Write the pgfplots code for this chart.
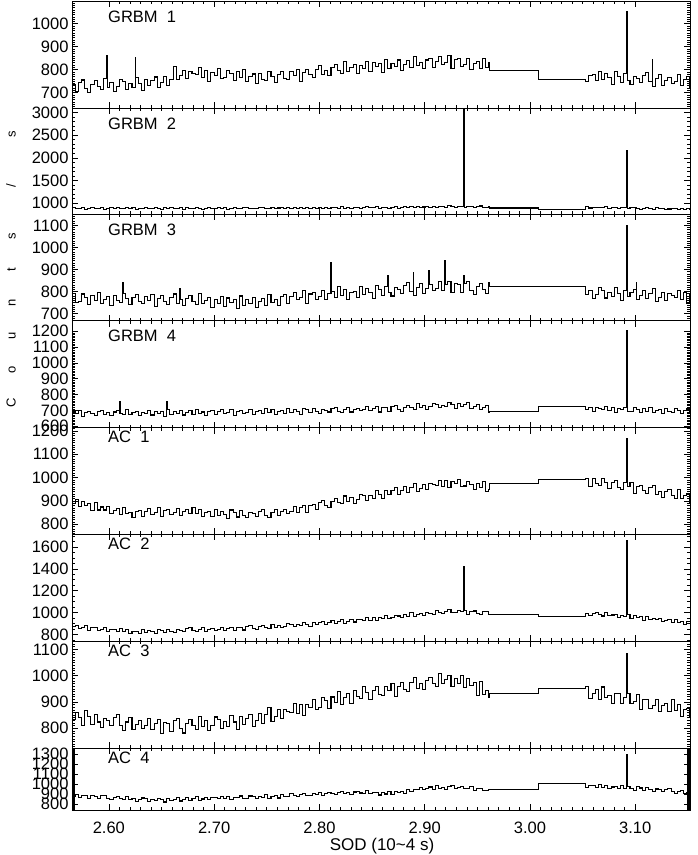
\documentclass[border=0pt]{standalone}
\usepackage{pgfplots}
\pgfplotsset{compat=1.18}
\usepackage{pgfplotstable}
\usepackage{fontspec}
\setmainfont{Liberation Sans}
\pgfplotstableread{
x g1 g2 g3 g4 a1 a2 a3 a4
2.565 736 902 792 694 889 874 835 878
2.568 703 882 750 682 908 884 860 897
2.571 746 896 756 700 875 857 840 866
2.574 755 906 789 664 898 860 811 882
2.577 717 874 773 688 881 878 866 889
2.580 699 888 743 696 888 837 845 854
2.583 735 904 782 678 857 861 816 881
2.586 751 878 758 670 892 862 853 878
2.589 727 894 796 692 861 838 824 854
2.592 713 910 745 702 874 843 804 881
2.595 761 872 766 674 861 859 838 886
2.598 862 884 778 684 877 827 828 858
2.5986 723 884 778 684 877 827 828 858
2.601 744 900 739 668 845 843 809 844
2.604 706 876 784 690 859 847 841 866
2.607 727 898 760 698 867 827 852 873
2.610 758 892 750 759 843 855 811 855
2.6106 758 892 750 680 843 855 811 855
2.613 750 886 840 673 873 827 792 842
2.6136 750 886 792 673 873 827 792 842
2.616 714 908 768 705 845 843 824 872
2.619 739 880 741 677 851 811 840 843
2.622 721 902 774 687 830 827 794 855
2.625 851 870 786 695 855 829 814 827
2.6256 764 870 786 695 855 829 814 827
2.628 738 896 753 667 860 812 829 841
2.631 709 888 747 689 835 842 801 860
2.634 759 906 779 679 853 819 810 853
2.637 730 878 761 701 866 838 839 829
2.640 752 882 788 671 843 827 794 844
2.643 768 904 734 696 850 809 820 832
2.646 721 894 770 682 871 848 832 859
2.649 744 874 782 692 833 837 781 841
2.652 769 900 754 664 860 819 822 820
2.655 731 884 742 755 865 846 819 852
2.6556 731 884 742 704 865 846 819 852
2.658 758 910 775 676 843 829 786 834
2.661 813 876 789 692 851 818 829 849
2.664 756 890 747 682 869 843 839 861
2.667 774 898 815 700 838 838 800 830
2.6676 774 898 762 700 838 838 800 830
2.670 797 872 737 671 856 827 782 846
2.673 761 902 770 687 862 850 819 863
2.676 794 886 782 697 844 859 834 839
2.679 784 880 757 676 873 834 811 856
2.682 777 908 742 708 847 823 797 874
2.685 808 892 790 682 865 846 845 837
2.688 766 874 747 690 834 859 807 850
2.691 798 896 761 670 851 830 829 866
2.694 750 904 773 696 854 844 790 843
2.697 788 882 730 700 835 855 812 866
2.700 776 878 762 675 864 838 843 861
2.703 803 900 746 693 839 845 835 855
2.706 760 888 778 705 856 866 800 878
2.709 766 906 733 680 843 837 825 851
2.712 798 870 771 687 824 856 807 874
2.715 783 894 749 707 861 864 850 842
2.718 752 902 764 669 849 832 824 869
2.721 790 884 723 695 831 861 795 861
2.724 764 876 780 700 857 861 844 880
2.727 802 898 738 678 839 840 815 853
2.730 750 908 763 686 827 870 838 858
2.733 770 880 748 705 850 877 854 880
2.736 781 892 775 675 844 852 807 871
2.739 740 878 730 693 832 842 830 852
2.742 784 898 755 699 854 868 855 879
2.745 759 909 770 682 862 879 817 864
2.748 751 891 739 712 838 865 854 892
2.751 794 883 788 687 828 857 880 859
2.754 771 915 751 705 851 891 825 875
2.757 745 887 765 676 865 867 845 884
2.760 780 897 736 694 837 883 871 860
2.763 793 905 777 698 853 859 837 891
2.766 761 877 785 681 865 875 872 877
2.769 756 899 748 711 848 897 865 872
2.772 790 891 776 688 856 893 859 902
2.775 773 913 796 706 878 871 895 887
2.778 802 883 762 694 851 889 856 871
2.781 750 909 772 677 872 879 892 895
2.784 786 895 804 715 882 909 847 905
2.787 802 905 748 704 851 893 889 885
2.790 777 878 789 686 882 875 880 883
2.793 767 917 796 712 883 909 910 907
2.796 802 889 765 694 864 891 871 897
2.799 819 905 778 683 894 907 880 917
2.802 779 895 807 707 903 919 916 883
2.805 796 914 763 702 880 889 904 909
2.808 773 884 791 690 870 905 877 918
2.811 808 900 933 713 896 924 919 901
2.8116 808 900 800 713 896 924 919 901
2.814 821 910 775 721 909 901 898 894
2.817 796 890 821 696 895 919 940 917
2.820 785 922 782 685 887 937 892 928
2.823 834 896 810 707 921 902 916 901
2.826 794 902 766 719 897 916 931 912
2.829 810 882 794 690 914 935 895 897
2.832 824 908 801 705 890 913 943 920
2.835 783 916 775 715 906 938 922 929
2.838 817 890 821 698 929 935 915 910
2.841 803 908 785 706 925 931 958 901
2.844 836 920 813 725 903 956 936 932
2.847 792 898 796 698 922 930 911 903
2.850 832 904 769 714 912 955 945 912
2.853 812 924 827 723 943 925 959 919
2.856 828 886 810 690 928 954 928 890
2.859 786 912 784 719 910 948 924 911
2.862 844 917 823 717 945 969 958 900
2.865 803 896 873 696 927 943 942 921
2.8656 803 896 797 696 927 943 942 921
2.868 828 905 780 725 944 950 972 894
2.871 814 924 817 732 956 975 920 923
2.874 842 895 809 707 927 968 958 912
2.877 798 914 792 696 943 951 973 925
2.880 824 921 826 721 962 980 949 905
2.883 840 904 839 732 938 967 939 949
2.886 808 935 801 717 957 996 975 927
2.889 857 910 886 708 975 965 992 949
2.8896 857 910 784 708 975 965 992 949
2.892 819 929 818 741 939 982 952 945
2.895 832 900 837 716 954 993 970 969
2.898 803 919 793 731 972 970 947 941
2.901 842 923 815 707 950 1002 982 958
2.904 849 906 895 722 973 989 995 970
2.9046 849 906 832 722 973 989 995 970
2.907 811 937 806 743 969 986 970 949
2.910 837 914 816 739 965 1017 960 983
2.913 857 932 847 716 989 1003 1009 958
2.916 822 921 803 733 963 988 969 968
2.919 832 904 941 722 986 1013 985 949
2.9196 832 904 832 722 986 1013 985 949
2.922 862 942 845 752 956 1024 999 977
2.925 806 931 795 735 984 1004 958 982
2.928 843 913 836 714 974 999 988 954
2.931 848 938 832 746 991 1019 971 969
2.934 813 920 797 725 961 1006 1001 979
2.937 824 3300 873 739 964 1424 954 952
2.9376 824 907 838 739 964 1022 954 952
2.940 849 931 846 748 984 985 990 956
2.943 802 924 806 713 972 1008 964 973
2.946 828 912 787 723 951 1014 973 933
2.949 835 933 821 736 975 995 926 956
2.952 807 941 835 706 958 985 977 958
2.955 850 914 810 719 982 1006 930 933
2.958 809 900 793 731 942 1012 944 935
2.961 833 919 840 688 950 980 919 946
2.962 795 897 823 693 974 980 933 947
3.008 759 860 823 725 991 965 952 1003
3.053 748 928 786 704 995 990 959 964
3.056 774 897 806 720 960 972 912 981
3.059 779 909 767 695 996 992 934 985
3.062 751 918 787 717 975 998 947 966
3.065 794 899 817 710 966 978 911 995
3.068 757 904 807 704 998 968 957 967
3.071 783 922 771 725 977 998 916 984
3.074 764 891 794 697 953 969 926 953
3.077 736 908 776 718 979 977 894 970
3.080 792 915 817 686 987 983 931 972
3.083 772 879 790 712 957 953 934 953
3.086 744 906 759 703 951 973 893 982
3.089 782 903 806 721 977 961 918 956
3.092 1054 2150 1100 1206 1166 1662 1084 1297
3.0926 754 879 776 692 960 981 934 973
3.095 735 906 796 696 980 948 896 959
3.098 771 911 811 717 932 971 903 938
3.101 761 884 841 707 960 954 930 974
3.1016 761 884 762 707 960 954 930 974
3.104 743 870 783 686 968 961 871 960
3.107 775 893 806 712 943 930 908 939
3.110 786 902 767 695 931 965 911 963
3.113 747 885 790 721 956 934 876 942
3.116 846 873 813 686 966 947 886 928
3.1166 728 873 813 686 966 947 886 928
3.119 761 904 756 700 929 934 910 950
3.122 778 877 773 708 939 949 863 941
3.125 733 890 797 681 916 916 888 927
3.128 753 862 760 711 942 929 894 947
3.131 767 875 793 694 949 936 865 952
3.134 740 894 783 688 924 911 908 924
3.137 748 886 774 715 912 940 867 909
3.140 778 861 806 699 949 911 892 929
3.143 732 876 764 680 912 916 845 938
3.146 758 863 796 702 923 893 870 906
3.149 770 889 747 710 930 916 874 918
3.152 718 870 786 687 893 917 845 925
3.155 718 870 786 687 893 917 845 925
}\data

\pgfplotsset{
  panel/.style={
    scale only axis, width=618pt, anchor=north west,
    xmin=2.565, xmax=3.152,
    xtick={2.6,2.7,2.8,2.9,3.0,3.1}, minor x tick num=9,
    xticklabels={},
    tick pos=both, tick align=inside,
    major tick length=6pt, minor tick length=3pt,
    tick style={line width=0.6pt, black},
    axis line style={line width=0.8pt, black},
    ticklabel style={font=\fontsize{16.5}{18}\selectfont},
    /pgf/number format/assume math mode=true,
    /pgf/number format/1000 sep={},
    scaled y ticks=false,
  },
  dat/.style={black, no markers, const plot, line width=1.05pt},
}
\tikzset{
  lab/.style={anchor=base west, inner sep=0pt, xshift=36pt, font=\fontsize{16.5}{18}\selectfont},
}

\begin{document}
\begin{tikzpicture}
\begin{axis}[panel, at={(0pt,0pt)}, height=107pt, ymin=633, ymax=1099,
  ytick={600,700,...,1100}, minor y tick num=9]
\addplot[dat] table[x=x,y=g1]{\data};
\node[lab, yshift=-21pt] at (rel axis cs:0,1) {GRBM\ \ 1};
\end{axis}
\begin{axis}[panel, at={(0pt,-107pt)}, height=106.3pt, ymin=758, ymax=3095,
  ytick={1000,1500,...,3000}, minor y tick num=4]
\addplot[dat] table[x=x,y=g2]{\data};
\node[lab, yshift=-21pt] at (rel axis cs:0,1) {GRBM\ \ 2};
\end{axis}
\begin{axis}[panel, at={(0pt,-213.3pt)}, height=106.2pt, ymin=669, ymax=1150,
  ytick={600,700,...,1200}, minor y tick num=9]
\addplot[dat] table[x=x,y=g3]{\data};
\node[lab, yshift=-21pt] at (rel axis cs:0,1) {GRBM\ \ 3};
\end{axis}
\begin{axis}[panel, at={(0pt,-319.5pt)}, height=107pt, ymin=592, ymax=1268,
  ytick={600,700,...,1200}, minor y tick num=9]
\addplot[dat] table[x=x,y=g4]{\data};
\node[lab, yshift=-21pt] at (rel axis cs:0,1) {GRBM\ \ 4};
\end{axis}
\begin{axis}[panel, at={(0pt,-426.5pt)}, height=106.5pt, ymin=758, ymax=1215,
  ytick={700,800,...,1300}, minor y tick num=9]
\addplot[dat] table[x=x,y=a1]{\data};
\node[lab, yshift=-15pt] at (rel axis cs:0,1) {AC\ \ 1};
\end{axis}
\begin{axis}[panel, at={(0pt,-533pt)}, height=107pt, ymin=739, ymax=1719,
  ytick={600,800,...,1800}, minor y tick num=3]
\addplot[dat] table[x=x,y=a2]{\data};
\node[lab, yshift=-15pt] at (rel axis cs:0,1) {AC\ \ 2};
\end{axis}
\begin{axis}[panel, at={(0pt,-640pt)}, height=107pt, ymin=725, ymax=1132,
  ytick={700,800,...,1200}, minor y tick num=9]
\addplot[dat] table[x=x,y=a3]{\data};
\node[lab, yshift=-15pt] at (rel axis cs:0,1) {AC\ \ 3};
\end{axis}
\begin{axis}[panel, at={(0pt,-747pt)}, height=62pt, ymin=740, ymax=1360,
  ytick={700,800,...,1400}, minor y tick num=9,
  xticklabels={2.60,2.70,2.80,2.90,3.00,3.10},
  xticklabel style={yshift=-8pt}]
\addplot[dat] table[x=x,y=a4]{\data};
\node[lab, yshift=-15pt] at (rel axis cs:0,1) {AC\ \ 4};
\end{axis}
\node[rotate=90, inner sep=0pt, font=\fontsize{13}{15}\selectfont] at (-61pt,-266.5pt)
 {\makebox[33.4pt]{C}\makebox[33.4pt]{o}\makebox[33.4pt]{u}\makebox[33.4pt]{n}\makebox[33.4pt]{t}\makebox[33.4pt]{s}\makebox[66.6pt]{/}\makebox[37.4pt]{s}};
\node[font=\fontsize{17}{20}\selectfont, inner sep=0pt] at (310pt,-845pt) {SOD (10\textasciitilde 4 s)};
\pgfresetboundingbox
\useasboundingbox (-72pt,1pt) rectangle (625pt,-854pt);
\end{tikzpicture}
\end{document}
